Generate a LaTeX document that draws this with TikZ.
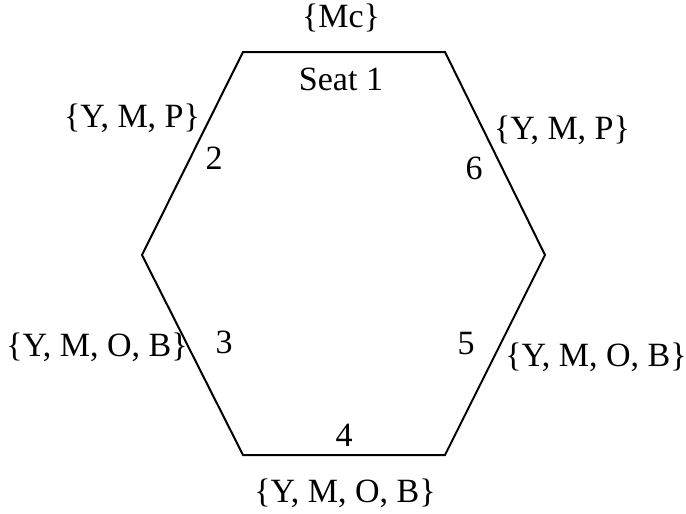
\documentclass[tikz,border=0pt]{standalone}
\usepackage{fontspec}
\setmainfont{Liberation Serif}
\begin{document}
\begin{tikzpicture}[x=1pt,y=-1pt,
  lbl/.style={font=\fontsize{34}{38}\selectfont, inner sep=0pt, anchor=center},
  edge/.style={draw=black, line width=2pt, line join=miter}]
\useasboundingbox (0,0) rectangle (686,514);
\coordinate (v1) at (243,52);
\coordinate (v2) at (445,52);
\coordinate (v3) at (545,255);
\coordinate (v4) at (445,455);
\coordinate (v5) at (243,455);
\coordinate (v6) at (142,255);
\draw[edge] (v1) -- (v2) -- (v3) -- (v4) -- (v5) -- (v6) -- cycle;
\node[lbl] (mc) at (341,18) {\{Mc\}};
\node[lbl] (s1) at (341,79) {Seat 1};
\node[lbl] (p2) at (132,118) {\{Y, M, P\}};
\node[lbl] (n2) at (214,158) {2};
\node[lbl] (p6) at (562,130) {\{Y, M, P\}};
\node[lbl] (n6) at (474,168) {6};
\node[lbl] (p3) at (97,347) {\{Y, M, O, B\}};
\node[lbl] (n3) at (224,342) {3};
\node[lbl] (n5) at (466,344) {5};
\node[lbl] (p5) at (596,357) {\{Y, M, O, B\}};
\node[lbl] (n4) at (344,435) {4};
\node[lbl] (p4) at (345,493) {\{Y, M, O, B\}};
\end{tikzpicture}
\end{document}
